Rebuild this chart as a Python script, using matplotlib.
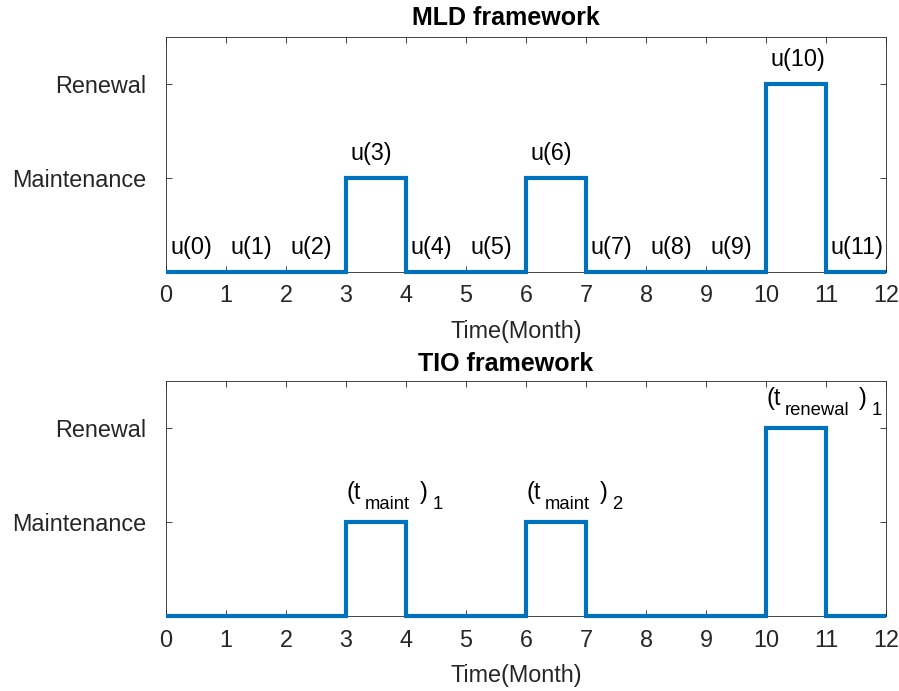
# Maintenance / renewal schedule: MLD vs TIO framework
import numpy as np
import matplotlib.pyplot as plt
from matplotlib.transforms import offset_copy

plt.rcParams['font.family'] = 'Liberation Sans'

months = np.arange(0, 13)
# 0 = nothing, 1 = maintenance, 2 = renewal (one value per month)
actions = [0, 0, 0, 1, 0, 0, 1, 0, 0, 0, 2, 0]
ytick_vals = [1, 2]
ytick_names = ['Maintenance', 'Renewal']
mld_labels = ['u(%d)' % k for k in range(12)]
tio_x = [3, 6, 10]
tio_level = [1, 1, 2]
tio_sub = ['maint', 'maint', 'renewal']
tio_idx = ['1', '2', '1']

blue = '#0072BD'
dark = '#262626'
fs = 16.8

fig = plt.figure(figsize=(8.99, 6.91), dpi=100)
ax1 = fig.add_axes([0.1847, 0.6064, 0.801, 0.340])
ax2 = fig.add_axes([0.1847, 0.1085, 0.801, 0.340])


def style(ax, title, pad):
    ax.stairs(actions, months, color=blue, linewidth=3, baseline=None,
              clip_on=False, joinstyle='miter', zorder=3)
    ax.set_xlim(0, 12)
    ax.set_ylim(0, 2.5)
    ax.set_xticks(months)
    ax.set_yticks(ytick_vals)
    ax.set_yticklabels(ytick_names)
    ax.tick_params(direction='in', length=4.5, width=0.6, colors=dark,
                   labelsize=fs, top=True, right=True)
    ax.tick_params(axis='x', pad=9)
    ax.tick_params(axis='y', pad=14)
    for s in ax.spines.values():
        s.set_color(dark)
        s.set_linewidth(0.6)
    ax.set_xlabel('Time(Month)', fontsize=fs, color=dark)
    ax.xaxis.set_label_coords(0.486, -0.203)
    ax.set_title(title, fontsize=18, fontweight='bold', pad=pad)
    ax.title.set_x(0.472)


style(ax1, 'MLD framework', 8.5)
for k in range(12):
    ax1.text(k + 0.08, actions[k] + 0.19, mld_labels[k], fontsize=fs,
             ha='left', va='baseline')

style(ax2, 'TIO framework', 7.2)

# MATLAB-like "(t_{sub})_{idx}" built piece by piece
r = fig.canvas.get_renderer()
for x, lev, sub, idx in zip(tio_x, tio_level, tio_sub, tio_idx):
    pieces = [('(t', 0, fs, 0), (sub, -10, 13.3, 4),
              (')', 0, fs, 10), (idx, -10, 13.3, 5)]
    dx = 0
    for s, dy, size, gap in pieces:
        dx += gap
        tr = offset_copy(ax2.transData, fig=fig, x=dx, y=dy, units='dots')
        t = ax2.text(x, lev + 0.245, s, transform=tr, fontsize=size,
                     ha='left', va='baseline')
        dx += t.get_window_extent(r).width

fig.savefig('out.png', dpi=100)
